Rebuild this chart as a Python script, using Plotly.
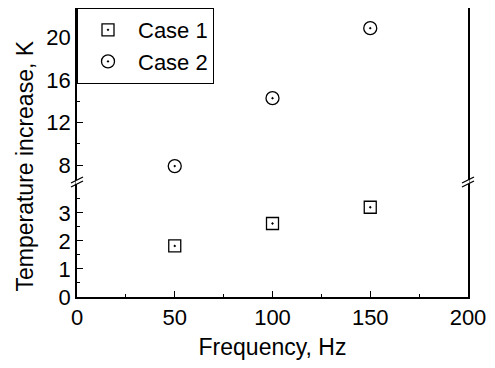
import plotly.graph_objects as go

freq = [50, 100, 150]
case1 = [1.82, 2.62, 3.2]
case2 = [7.9, 14.3, 20.9]

x_ticks = [0, 50, 100, 150, 200]
low_ticks = [0, 1, 2, 3]
up_ticks = [8, 12, 16, 20]

FONT = "Liberation Sans, Arial, sans-serif"
fs = 22
fs_title = 23
split = 0.398

fig = go.Figure()
fig.add_trace(go.Scatter(x=freq, y=case1, mode="markers", name="Case 1",
                         xaxis="x", yaxis="y",
                         marker=dict(symbol="square-open-dot", size=12, color="black",
                                     line=dict(width=1.3, color="black"))))
fig.add_trace(go.Scatter(x=freq, y=case2, mode="markers", name="Case 2",
                         xaxis="x2", yaxis="y2",
                         marker=dict(symbol="circle-open-dot", size=13, color="black",
                                     line=dict(width=1.3, color="black"))))

fig.update_layout(
    width=487, height=360,
    margin=dict(l=69, r=27, t=0, b=71),
    paper_bgcolor="white", plot_bgcolor="white",
    font=dict(family=FONT, size=fs, color="black"),
    showlegend=True,
    legend=dict(x=0, y=1, xanchor="left", yanchor="top",
                bordercolor="black", borderwidth=1, bgcolor="white",
                font=dict(size=fs), tracegroupgap=0, itemwidth=50),
    xaxis=dict(domain=[0, 1], anchor="y", range=[0, 200], tickvals=x_ticks,
               showline=True, linecolor="black", linewidth=1.5,
               ticks="inside", ticklen=6, tickcolor="black",
               minor=dict(tickvals=[25, 75, 125, 175], ticks="inside", ticklen=3, tickcolor="black"),
               showgrid=False, zeroline=False,
               title=dict(text="Frequency, Hz", standoff=10, font=dict(size=fs_title))),
    xaxis2=dict(domain=[0, 1], anchor="y2", matches="x", side="top", range=[0, 200],
                showline=True, linecolor="black", linewidth=1.5, ticks="",
                showticklabels=False, showgrid=False, zeroline=False),
    yaxis=dict(domain=[0, split], anchor="x", range=[0, 4.1], tickvals=low_ticks,
               showline=True, mirror=True, linecolor="black", linewidth=1.5,
               ticks="inside", ticklen=6, tickcolor="black",
               minor=dict(tickvals=[0.5, 1.5, 2.5, 3.5], ticks="inside", ticklen=3, tickcolor="black"),
               showgrid=False, zeroline=False),
    yaxis2=dict(domain=[split, 1], anchor="x2", range=[6.4, 22.8], tickvals=up_ticks,
                showline=True, mirror=True, linecolor="black", linewidth=1.5,
                ticks="inside", ticklen=6, tickcolor="black",
                minor=dict(tickvals=[10, 14, 18, 22], ticks="inside", ticklen=3, tickcolor="black"),
                showgrid=False, zeroline=False),
)

# y-axis title spanning both panels
fig.add_annotation(text="Temperature increase, K", xref="paper", yref="paper",
                   x=0, y=0.5, xanchor="center", yanchor="middle", textangle=-90,
                   xshift=-53, yshift=-14, showarrow=False, font=dict(size=fs_title))

# break marks
px_x = 1 / 391
px_y = 1 / (289 * split)
for xc in (0, 1):
    fig.add_shape(type="line", xref="x domain", yref="y domain",
                  x0=xc, x1=xc, y0=1 - 2 * px_y, y1=1 + 2 * px_y,
                  line=dict(color="white", width=3))
    for off in (-2, 2):
        fig.add_shape(type="line", xref="x domain", yref="y domain",
                      x0=xc - 6 * px_x, x1=xc + 6 * px_x,
                      y0=1 + (off - 3) * px_y, y1=1 + (off + 3) * px_y,
                      line=dict(color="black", width=1.3))

fig.write_html("out.html")
